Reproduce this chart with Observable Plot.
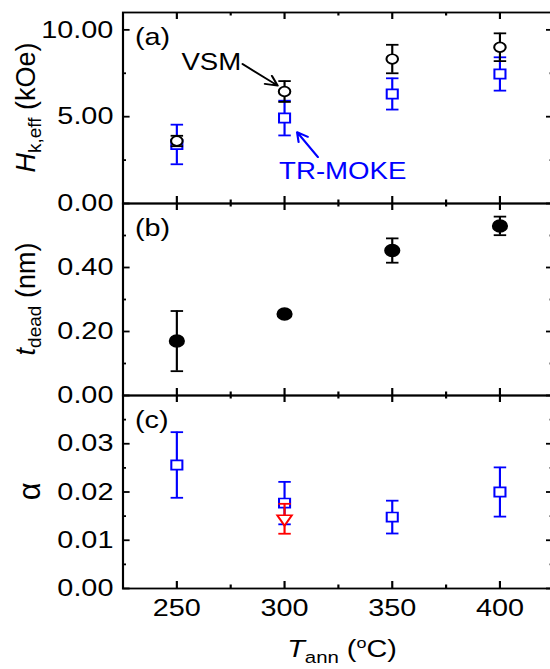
<!DOCTYPE html>
<html><head><meta charset="utf-8">
<script src="https://cdn.jsdelivr.net/npm/d3@7"></script>
<script src="https://cdn.jsdelivr.net/npm/@observablehq/plot@0.6"></script>
<style>
html,body{margin:0;padding:0;background:#fff;overflow:hidden;}
#wrap{position:relative;width:550px;height:669px;overflow:hidden;background:#fff;}
#inner{position:absolute;left:0;top:0;width:464px;height:669px;transform:scaleX(1.2);transform-origin:0 0;}
#inner svg{position:absolute;left:0;}
</style></head><body><div id="wrap"><div id="inner"></div></div>
<script>
// ---- data ----
const temps = [250, 300, 350, 400];
const hkVSM = [3.6, 6.45, 8.32, 9.0];
const hkVSMErr = [0.3, 0.6, 0.82, 0.8];
const hkMOKE = [3.4, 4.92, 6.31, 7.46];
const hkMOKEErr = [1.14, 1.0, 0.9, 0.96];
const tDead = [0.17, 0.255, 0.453, 0.53];
const tDeadErr = [0.094, 0.008, 0.038, 0.029];
const alphaMOKE = [0.0256, 0.0177, 0.0148, 0.02];
const alphaMOKEErr = [0.0068, 0.0044, 0.0034, 0.0051];
const alphaFMRTemps = [300];
const alphaFMR = [0.01445];
const alphaFMRErr = [0.0031];
const xTicks = [250, 300, 350, 400];
const xMinor = [275, 325, 375];
const hkTicks = [0, 5, 10], hkMinor = [2.5, 7.5];
const tTicks = [0, 0.2, 0.4], tMinor = [0.1, 0.3, 0.5];
const aTicks = [0, 0.01, 0.02, 0.03], aMinor = [0.005, 0.015, 0.025, 0.035];
const annotLabels = ["VSM", "TR-MOKE"];
const annotX = [266, 327];
const annotY = [8.12, 1.81];
const arrowX1 = [280.5, 315.5], arrowY1 = [8.03, 2.67];
const arrowX2 = [296.8, 305.8], arrowY2 = [6.79, 4.11];

// ---- helpers ----
const rows = (ys, es, xs = temps) => xs.map((x, i) => ({x, y: ys[i], e: es[i]}));
const W = 464, ML = 102, MR = 3, PW = W - ML - MR, SW = 1.8, STRETCH = 1.2;
const FONT = "'Liberation Sans', Arial, sans-serif";
const cap = {draw(ctx) { ctx.moveTo(-5.2, 0); ctx.lineTo(5.2, 0); }};
function errMarks(d, color) {
  return [
    Plot.ruleX(d, {x: "x", y1: r => r.y - r.e, y2: r => r.y + r.e, stroke: color, strokeWidth: SW}),
    Plot.dot(d, {x: "x", y: r => r.y - r.e, symbol: cap, stroke: color, strokeWidth: SW}),
    Plot.dot(d, {x: "x", y: r => r.y + r.e, symbol: cap, stroke: color, strokeWidth: SW})
  ];
}
function frameTicks(PH, yT, yM) {
  const m = [];
  m.push(Plot.tickX(xTicks, {x: d => d, insetBottom: PH - 7, strokeWidth: SW}));
  m.push(Plot.tickX(xTicks, {x: d => d, insetTop: PH - 7, strokeWidth: SW}));
  m.push(Plot.tickX(xMinor, {x: d => d, insetBottom: PH - 3.5, strokeWidth: SW}));
  m.push(Plot.tickX(xMinor, {x: d => d, insetTop: PH - 3.5, strokeWidth: SW}));
  m.push(Plot.tickY(yT, {y: d => d, insetRight: PW - 6, strokeWidth: SW}));
  m.push(Plot.tickY(yT, {y: d => d, insetLeft: PW - 6, strokeWidth: SW}));
  m.push(Plot.tickY(yM, {y: d => d, insetRight: PW - 3, strokeWidth: SW}));
  m.push(Plot.tickY(yM, {y: d => d, insetLeft: PW - 3, strokeWidth: SW}));
  return m;
}
function panel({top, height, mt, mb, yDomain, yT, yM, fmt, marks, tag, xAxis}) {
  const PH = height - mt - mb;
  const all = [
    ...marks,
    Plot.frame({strokeWidth: SW}),
    ...frameTicks(PH, yT, yM),
    Plot.axisY(yT, {tickSize: 0, tickPadding: 8, tickFormat: d3.format(fmt), label: null, fontSize: 24}),
    Plot.text([tag], {frameAnchor: "top-left", dx: 10, dy: 25, textAnchor: "start", lineAnchor: "middle", fontSize: 24})
  ];
  if (xAxis) all.push(Plot.axisX(xTicks, {anchor: "bottom", tickSize: 0, tickPadding: 10, label: null, fontSize: 24}));
  const svg = Plot.plot({
    width: W, height, marginLeft: ML, marginRight: MR, marginTop: mt, marginBottom: mb,
    x: {domain: [225, 425], ...(xAxis ? {} : {axis: null})},
    y: {domain: yDomain},
    style: {background: "transparent", fontFamily: FONT, fontSize: "24px", color: "black", overflow: "visible"},
    marks: all
  });
  svg.style.top = top + "px";
  document.getElementById("inner").appendChild(svg);
  return svg;
}
function richText(svg, x, y, parts, {rotate = false, size = 27} = {}) {
  const t = d3.select(svg).append("text")
    .attr("transform", rotate ? `translate(${x},${y}) scale(${1 / STRETCH},1) rotate(-90)` : `translate(${x},${y})`)
    .attr("text-anchor", "middle").attr("font-family", FONT).attr("font-size", size).attr("fill", "black");
  let shift = 0;
  for (const p of parts) {
    const s = t.append("tspan").text(p.text);
    const target = p.sub ? p.sub : 0;
    s.attr("dy", target - shift); shift = target;
    if (p.size) s.attr("font-size", p.size);
    if (p.italic) s.attr("font-style", "italic");
  }
}

// ---- panel (a) ----
const vsm = rows(hkVSM, hkVSMErr), moke = rows(hkMOKE, hkMOKEErr);
const annot = annotLabels.map((t, i) => ({t, x: annotX[i], y: annotY[i], c: i ? "#0000ff" : "black"}));
const arrows = arrowX1.map((x1, i) => ({x1, y1: arrowY1[i], x2: arrowX2[i], y2: arrowY2[i], c: i ? "#0000ff" : "black"}));
const svgA = panel({top: 0, height: 220, mt: 12, mb: 17, yDomain: [0, 11], yT: hkTicks, yM: hkMinor, fmt: ".2f", tag: "(a)",
  marks: [
    ...errMarks(moke, "#0000ff"),
    Plot.dot(moke, {x: "x", y: "y", symbol: "square", r: 5.2, stroke: "#0000ff", fill: "white", strokeWidth: 1.7}),
    ...errMarks(vsm, "black"),
    Plot.dot(vsm, {x: "x", y: "y", r: 4.8, stroke: "black", fill: "white", strokeWidth: 1.7}),
    Plot.arrow(arrows, {x1: "x1", y1: "y1", x2: "x2", y2: "y2", stroke: "c", strokeWidth: 1.8, headLength: 9, headAngle: 55}),
    Plot.text(annot, {x: "x", y: "y", text: "t", fill: "c", fontSize: 23})
  ]});
richText(svgA, 29, 107.5, [{text: "H", italic: true}, {text: "k,eff", sub: 6, size: 19}, {text: " (kOe)"}], {rotate: true});

// ---- panel (b) ----
const td = rows(tDead, tDeadErr);
const svgB = panel({top: 185, height: 230, mt: 18, mb: 20, yDomain: [0, 0.6], yT: tTicks, yM: tMinor, fmt: ".2f", tag: "(b)",
  marks: [
    ...errMarks(td, "black"),
    Plot.dot(td, {x: "x", y: "y", r: 6, fill: "black", stroke: "black"})
  ]});
richText(svgB, 29, 114, [{text: "t", italic: true}, {text: "dead", sub: 6, size: 19}, {text: " (nm)"}], {rotate: true});

// ---- panel (c) ----
const am = rows(alphaMOKE, alphaMOKEErr), af = rows(alphaFMR, alphaFMRErr, alphaFMRTemps);
const svgC = panel({top: 377, height: 292, mt: 18, mb: 81, yDomain: [0, 0.04], yT: aTicks, yM: aMinor, fmt: ".2f", tag: "(c)", xAxis: true,
  marks: [
    ...errMarks(am, "#0000ff"),
    Plot.dot(am, {x: "x", y: "y", symbol: "square", r: 5.2, stroke: "#0000ff", fill: "white", strokeWidth: 1.7}),
    ...errMarks(af, "#ff0000"),
    Plot.dot(af, {x: "x", y: "y", symbol: "triangle2", rotate: 180, r: 5.8, stroke: "#ff0000", fill: "white", strokeWidth: 1.7})
  ]});
richText(svgC, 33, 114.4, [{text: "α"}], {rotate: true, size: 31});
richText(svgC, 285, 279.7, [{text: "T", italic: true}, {text: "ann", sub: 6, size: 17}, {text: " ("}, {text: "o", sub: -9, size: 15}, {text: "C)"}], {size: 24});
</script></body></html>
